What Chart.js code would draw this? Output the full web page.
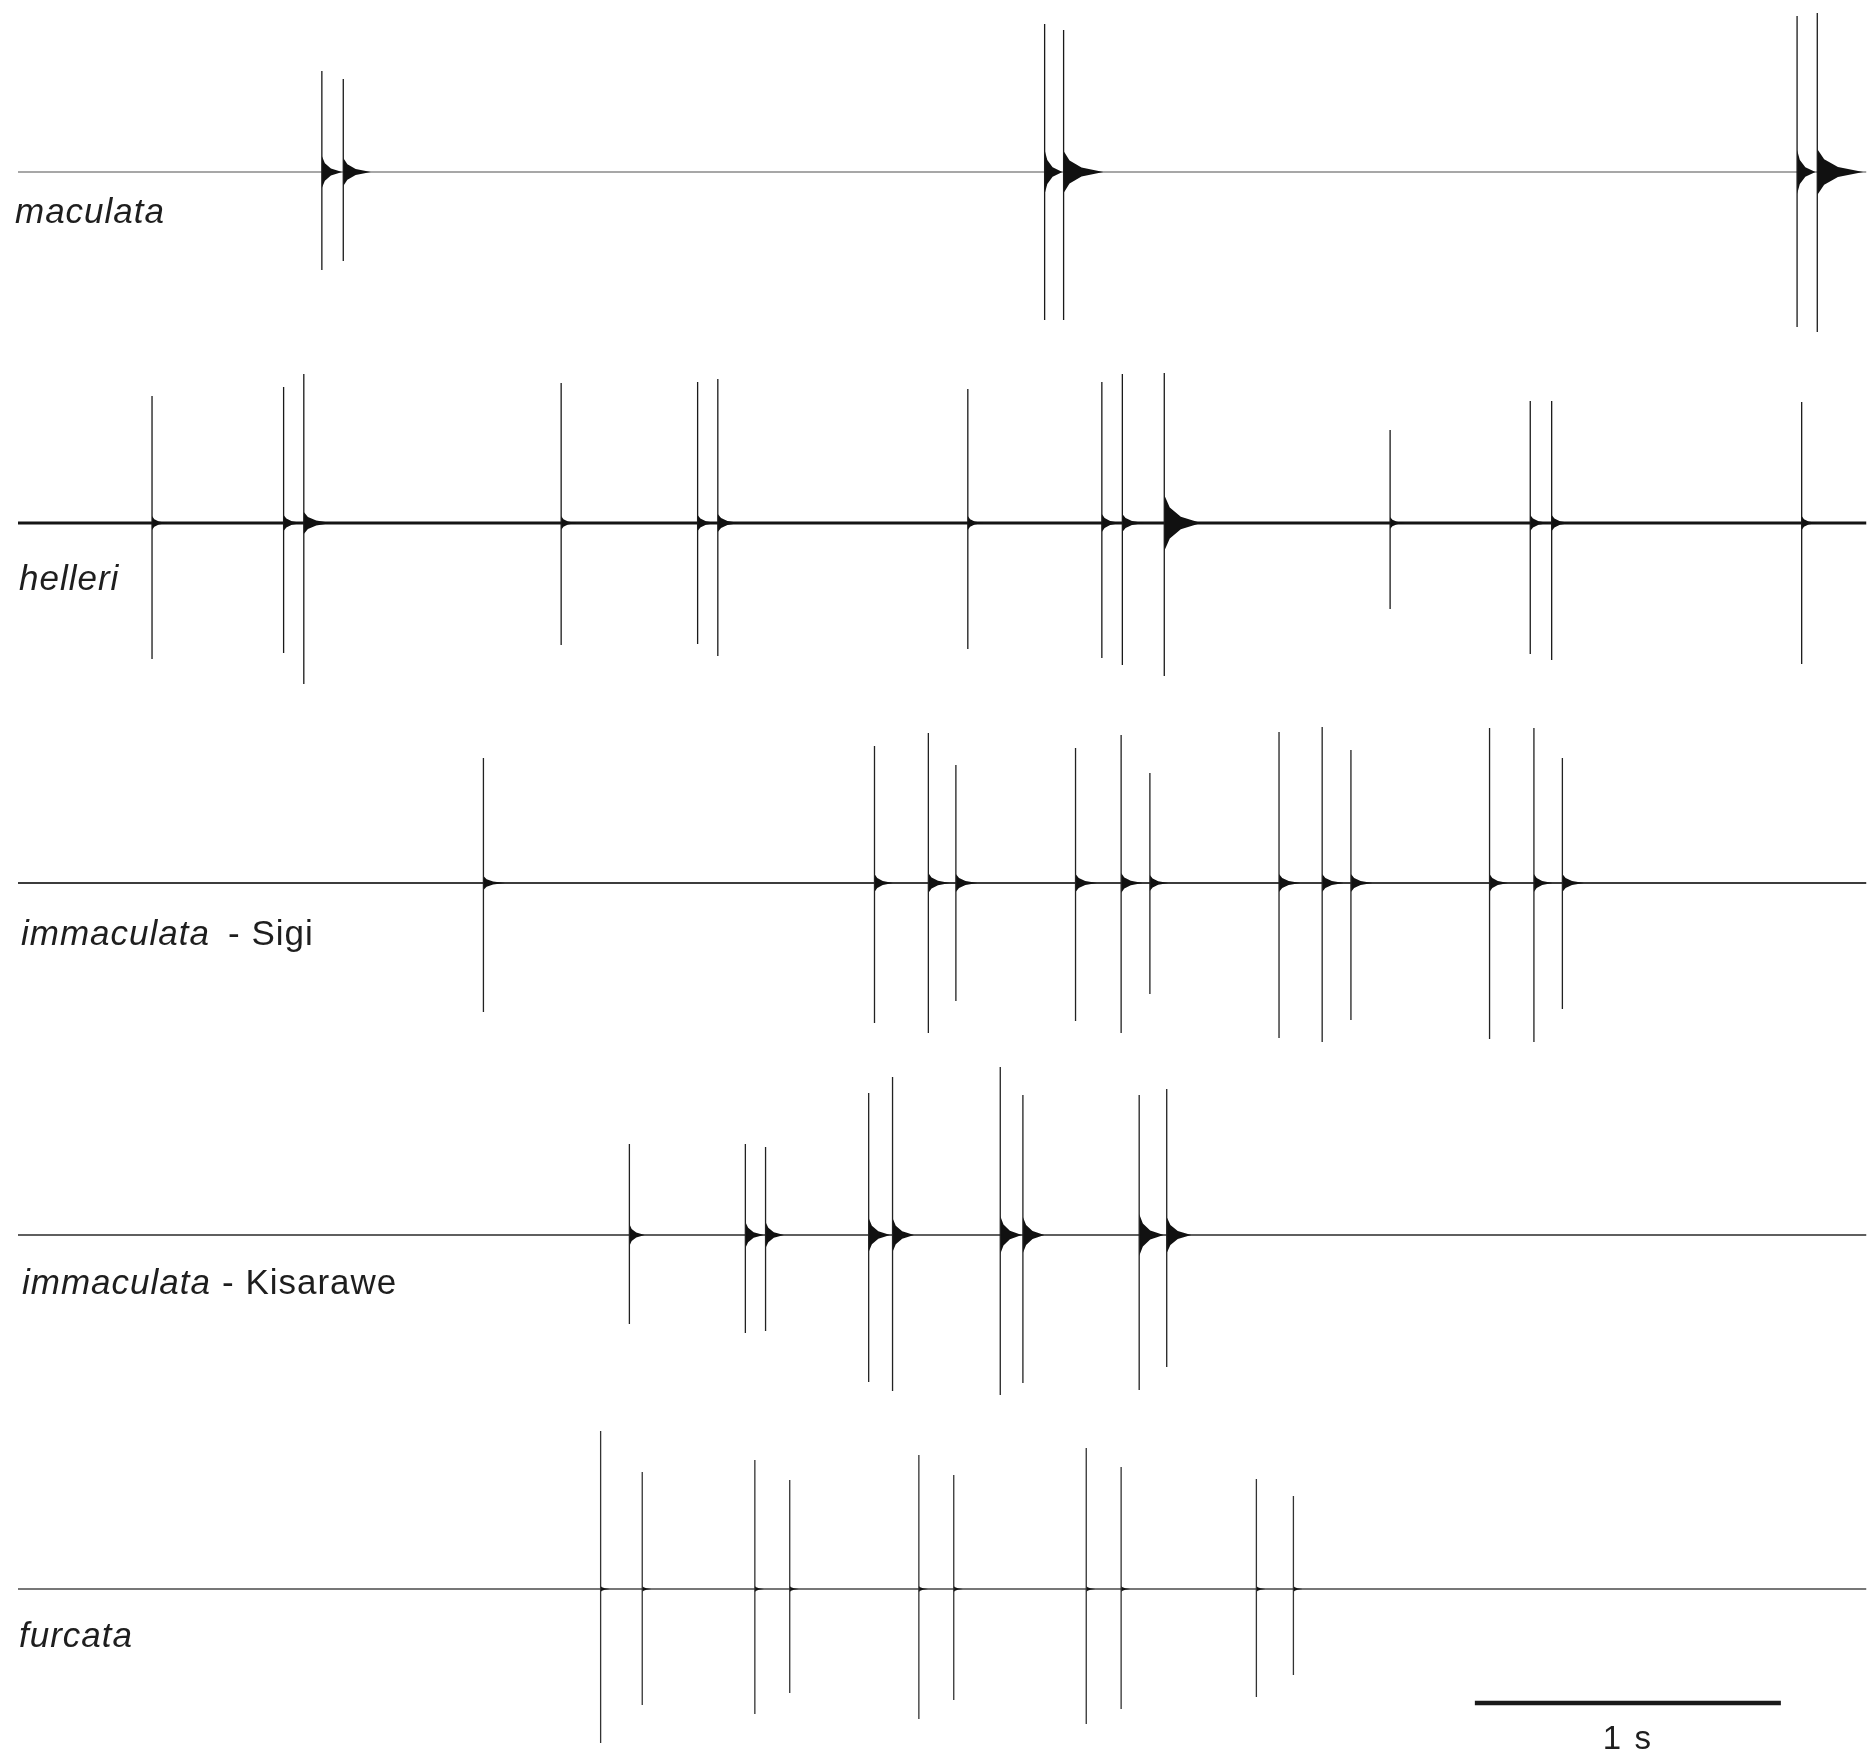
<!DOCTYPE html>
<html>
<head>
<meta charset="utf-8">
<title>Oscillograms</title>
<script src="https://cdn.jsdelivr.net/npm/chart.js@4.4.1/dist/chart.umd.min.js"></script>
<style>
  html, body { margin: 0; padding: 0; background: #fff; }
  canvas { display: block; }
</style>
</head>
<body>
<canvas id="osc" width="1876" height="1759"></canvas>
<script>
// time in s, amplitudes in relative units
const traceLength = 6.04;

const traceNames = ["maculata", "helleri", "immaculata", "immaculata", "furcata"];
const traceSites = ["", "", "Sigi", "Kisarawe", ""];

const maculataTimes = [0.993, 1.063, 3.355, 3.417, 5.814, 5.880];
const maculataUp = [1.01, 0.93, 1.48, 1.42, 1.56, 1.59];
const maculataDown = [0.98, 0.89, 1.48, 1.48, 1.55, 1.60];
const maculataBurst = [0.16, 0.14, 0.22, 0.21, 0.22, 0.23];
const maculataBurstLen = [0.07, 0.09, 0.06, 0.13, 0.06, 0.15];

const helleriTimes = [0.438, 0.868, 0.934, 1.775, 2.221, 2.287, 3.104, 3.542, 3.609, 3.746, 4.484, 4.942, 5.012, 5.829];
const helleriUp = [1.27, 1.36, 1.49, 1.40, 1.41, 1.44, 1.34, 1.41, 1.49, 1.50, 0.93, 1.22, 1.22, 1.21];
const helleriDown = [1.36, 1.30, 1.61, 1.22, 1.21, 1.33, 1.26, 1.35, 1.42, 1.53, 0.86, 1.31, 1.37, 1.41];
const helleriBurst = [0.07, 0.08, 0.11, 0.07, 0.08, 0.09, 0.07, 0.09, 0.09, 0.28, 0.06, 0.08, 0.08, 0.07];
const helleriBurstLen = [0.05, 0.06, 0.09, 0.05, 0.06, 0.07, 0.05, 0.06, 0.07, 0.12, 0.05, 0.06, 0.06, 0.05];

const sigiTimes = [1.521, 2.799, 2.975, 3.065, 3.456, 3.605, 3.699, 4.121, 4.262, 4.356, 4.809, 4.954, 5.047];
const sigiUp = [1.25, 1.37, 1.50, 1.18, 1.35, 1.48, 1.10, 1.51, 1.56, 1.33, 1.55, 1.55, 1.25];
const sigiDown = [1.29, 1.40, 1.50, 1.18, 1.38, 1.50, 1.11, 1.55, 1.59, 1.37, 1.56, 1.59, 1.26];
const sigiBurst = [0.07, 0.09, 0.10, 0.09, 0.09, 0.10, 0.08, 0.09, 0.09, 0.09, 0.09, 0.09, 0.09];
const sigiBurstLen = [0.07, 0.06, 0.07, 0.07, 0.07, 0.07, 0.06, 0.07, 0.07, 0.07, 0.06, 0.06, 0.07];

const kisaraweTimes = [1.998, 2.377, 2.443, 2.780, 2.858, 3.210, 3.284, 3.664, 3.754];
const kisaraweUp = [0.91, 0.91, 0.88, 1.42, 1.58, 1.68, 1.40, 1.40, 1.46];
const kisaraweDown = [0.89, 0.98, 0.96, 1.47, 1.56, 1.60, 1.48, 1.55, 1.32];
const kisaraweBurst = [0.11, 0.13, 0.13, 0.17, 0.17, 0.19, 0.18, 0.21, 0.18];
const kisaraweBurstLen = [0.05, 0.06, 0.06, 0.07, 0.07, 0.07, 0.07, 0.08, 0.08];

const furcataTimes = [1.904, 2.040, 2.408, 2.522, 2.944, 3.058, 3.491, 3.605, 4.047, 4.168];
const furcataUp = [1.58, 1.17, 1.29, 1.09, 1.34, 1.14, 1.41, 1.22, 1.10, 0.93];
const furcataDown = [1.54, 1.16, 1.25, 1.04, 1.30, 1.11, 1.35, 1.20, 1.08, 0.86];
const furcataBurst = [0.03, 0.03, 0.03, 0.03, 0.03, 0.03, 0.03, 0.03, 0.03, 0.03];
const furcataBurstLen = [0.03, 0.03, 0.03, 0.03, 0.03, 0.03, 0.03, 0.03, 0.03, 0.03];

// scale bar: 1 s
const scaleBarStart = 4.761;
const scaleBarLength = 1;
const scaleBarLevel = -1.14;

const traces = [
    [maculataTimes, maculataUp, maculataDown, maculataBurst, maculataBurstLen],
    [helleriTimes, helleriUp, helleriDown, helleriBurst, helleriBurstLen],
    [sigiTimes, sigiUp, sigiDown, sigiBurst, sigiBurstLen],
    [kisaraweTimes, kisaraweUp, kisaraweDown, kisaraweBurst, kisaraweBurstLen],
    [furcataTimes, furcataUp, furcataDown, furcataBurst, furcataBurstLen]
];

// layout (pixels)
const W = 1876, H = 1759;
const X0 = 18, PX_PER_S = 306, PX_PER_UNIT = 100;
const baselinePx = [172, 523, 883, 1235, 1589];
const baselineColor = ["#8a8a8a", "#151515", "#3c3c3c", "#2a2a2a", "#4a4a4a"];
const baselineWidth = [1.3, 3, 2, 1.6, 1.5];
const spikeColor = ["#1a1a1a", "#1a1a1a", "#222", "#222", "#333"];
const labelX = [15, 19, 21, 22, 19];
const labelDrop = [51, 67, 62, 59, 58];
const siteX = [0, 0, 228, 222, 0];


function spikePoints(times, up, down) {
    const pts = [];
    times.forEach((t, i) => {
        pts.push({ x: t, y: up[i] }, { x: t, y: -down[i] }, { x: t, y: null });
    });
    return pts;
}

// decaying envelope right after each spike
function burstPoints(times, amp, len, sign) {
    const pts = [{ x: 0, y: 0 }];
    times.forEach((t, i) => {
        const next = i + 1 < times.length ? times[i + 1] : traceLength;
        const L = Math.min(len[i], next - t - 0.004);
        pts.push({ x: t, y: 0 }, { x: t, y: sign * amp[i] },
                 { x: t + L * 0.15, y: sign * amp[i] * 0.55 },
                 { x: t + L * 0.45, y: sign * amp[i] * 0.22 },
                 { x: t + L, y: 0 });
    });
    pts.push({ x: traceLength, y: 0 });
    return pts;
}

const datasets = [];
const scales = {
    x: { type: 'linear', display: false, min: -X0 / PX_PER_S, max: (W - X0) / PX_PER_S }
};

traces.forEach((tr, i) => {
    const axis = 'y' + i;
    scales[axis] = {
        type: 'linear', display: false,
        min: -(H - baselinePx[i]) / PX_PER_UNIT,
        max: baselinePx[i] / PX_PER_UNIT
    };
    const [times, up, down, burst, burstLen] = tr;

    datasets.push({
        data: [{ x: 0, y: 0 }, { x: traceLength, y: 0 }],
        yAxisID: axis, borderColor: baselineColor[i], borderWidth: baselineWidth[i],
        pointRadius: 0, order: 4
    });
    [1, -1].forEach(sign => {
        datasets.push({
            data: burstPoints(times, burst, burstLen, sign),
            yAxisID: axis, borderColor: 'rgba(0,0,0,0)', borderWidth: 1,
            backgroundColor: '#111', fill: 'origin', pointRadius: 0, order: 3
        });
    });
    datasets.push({
        data: spikePoints(times, up, down),
        yAxisID: axis, borderColor: spikeColor[i], borderWidth: 1.3,
        pointRadius: 0, spanGaps: false, order: 2
    });
});

datasets.push({
    data: [{ x: scaleBarStart, y: scaleBarLevel }, { x: scaleBarStart + scaleBarLength, y: scaleBarLevel }],
    yAxisID: 'y4', borderColor: '#1a1a1a', borderWidth: 4.5, borderCapStyle: 'butt',
    pointRadius: 0, order: 1
});

// species names and the scale bar caption
const labelPlugin = {
    id: 'traceLabels',
    afterDatasetsDraw(chart) {
        const ctx = chart.ctx;
        ctx.save();
        ctx.fillStyle = '#1e1e1e';
        ctx.textBaseline = 'alphabetic';
        ctx.textAlign = 'left';
        ctx.letterSpacing = '1px';
        traceNames.forEach((name, i) => {
            const y = chart.scales['y' + i].getPixelForValue(0) + labelDrop[i];
            ctx.font = 'italic 35px "Liberation Sans", Arial, sans-serif';
            ctx.fillText(name, labelX[i], y);
            if (traceSites[i]) {
                ctx.font = '35px "Liberation Sans", Arial, sans-serif';
                ctx.fillText('- ' + traceSites[i], siteX[i], y);
            }
        });
        const xs = chart.scales.x;
        const cx = xs.getPixelForValue(scaleBarStart + scaleBarLength / 2);
        const cy = chart.scales.y4.getPixelForValue(scaleBarLevel) + 46;
        ctx.letterSpacing = '2px';
        ctx.textAlign = 'center';
        ctx.font = '33px "Liberation Sans", Arial, sans-serif';
        ctx.fillText('1 s', cx, cy);
        ctx.restore();
    }
};

const ctx = document.getElementById('osc').getContext('2d');
const chart = new Chart(ctx, {
    type: 'line',
    data: { datasets: datasets },
    options: {
        responsive: false,
        animation: false,
        events: [],
        layout: { padding: 0 },
        elements: { line: { tension: 0 } },
        plugins: { legend: { display: false }, tooltip: { enabled: false } },
        scales: scales
    },
    plugins: [labelPlugin]
});
</script>
</body>
</html>
